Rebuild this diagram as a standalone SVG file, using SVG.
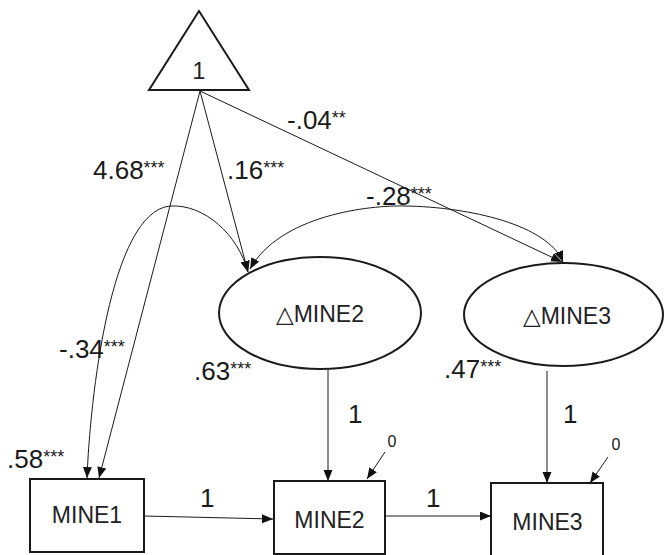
<svg xmlns="http://www.w3.org/2000/svg" width="664" height="555" viewBox="0 0 664 555">
<style>
.box{fill:#fff;stroke:#1a1a1a;stroke-width:2}
.ell{fill:#fff;stroke:#1a1a1a;stroke-width:2}
.ln{fill:none;stroke:#1a1a1a;stroke-width:1}
.nt{font-family:"Liberation Sans","DejaVu Sans",sans-serif;font-size:23px;fill:#222;text-anchor:middle}
.lb{font-family:"Liberation Sans",Arial,sans-serif;font-size:26px;fill:#1a1a1a}
.st{font-size:18px}
.zr{font-family:"Liberation Sans",Arial,sans-serif;font-size:16px;fill:#1a1a1a;text-anchor:middle}
</style>
<defs>
<marker id="ah" markerUnits="userSpaceOnUse" markerWidth="12" markerHeight="10" refX="11" refY="4.5" orient="auto-start-reverse" viewBox="0 0 12 10">
<path d="M0,0 L11,4.5 L0,9 z" fill="#111"/>
</marker>
</defs>
<g id="connectors">
<line class="ln" x1="200" y1="91" x2="99" y2="478" marker-end="url(#ah)"/>
<line class="ln" x1="200" y1="91" x2="248" y2="272" marker-end="url(#ah)"/>
<line class="ln" x1="200" y1="91" x2="562" y2="262" marker-end="url(#ah)"/>
<path class="ln" d="M87,478 C90,400 110,212 170,206 C205,204 238,235 248,272" marker-start="url(#ah)" marker-end="url(#ah)"/>
<path class="ln" d="M250,269 C280,215 370,205 405,206 C470,207 548,225 563,262" marker-start="url(#ah)" marker-end="url(#ah)"/>
<line class="ln" x1="328" y1="370" x2="328" y2="481" marker-end="url(#ah)"/>
<line class="ln" x1="547" y1="371" x2="547" y2="483" marker-end="url(#ah)"/>
<line class="ln" x1="144" y1="516" x2="273" y2="519" marker-end="url(#ah)"/>
<line class="ln" x1="385" y1="516" x2="491" y2="516" marker-end="url(#ah)"/>
<line class="ln" x1="385" y1="452" x2="367" y2="479" marker-end="url(#ah)"/>
<line class="ln" x1="608" y1="457" x2="590" y2="483" marker-end="url(#ah)"/>
</g>
<g id="one">
<polygon points="199,11 149,90 249,90" fill="#fff" stroke="#1a1a1a" stroke-width="2"/>
<text class="nt" x="199" y="79">1</text>
</g>
<g id="dMINE2">
<ellipse class="ell" cx="320" cy="313" rx="101" ry="56"/>
<text class="nt" x="320" y="322">△MINE2</text>
</g>
<g id="dMINE3">
<ellipse class="ell" cx="563.5" cy="314.5" rx="99.5" ry="51.5"/>
<text class="nt" x="567" y="324">△MINE3</text>
</g>
<g id="MINE1">
<rect class="box" x="30" y="479" width="114" height="73"/>
<text class="nt" x="87" y="523">MINE1</text>
</g>
<g id="MINE2">
<rect class="box" x="274" y="481" width="111" height="73"/>
<text class="nt" x="329.5" y="528">MINE2</text>
</g>
<g id="MINE3">
<rect class="box" x="491" y="483" width="112" height="73"/>
<text class="nt" x="547.5" y="530">MINE3</text>
</g>
<g id="labels">
<text class="lb" x="93" y="179">4.68<tspan class="st" dy="-5">***</tspan></text>
<text class="lb" x="227" y="179">.16<tspan class="st" dy="-5">***</tspan></text>
<text class="lb" x="287" y="129">-.04<tspan class="st" dy="-5">**</tspan></text>
<text class="lb" x="366" y="205">-.28<tspan class="st" dy="-5">***</tspan></text>
<text class="lb" x="59" y="358">-.34<tspan class="st" dy="-5">***</tspan></text>
<text class="lb" x="194" y="380">.63<tspan class="st" dy="-5">***</tspan></text>
<text class="lb" x="444" y="378">.47<tspan class="st" dy="-5">***</tspan></text>
<text class="lb" x="7" y="468">.58<tspan class="st" dy="-5">***</tspan></text>
<text class="lb" x="200" y="507">1</text>
<text class="lb" x="426" y="507">1</text>
<text class="lb" x="348" y="423">1</text>
<text class="lb" x="563" y="423">1</text>
<text class="zr" x="392" y="447">0</text>
<text class="zr" x="616" y="450">0</text>
</g>
</svg>
